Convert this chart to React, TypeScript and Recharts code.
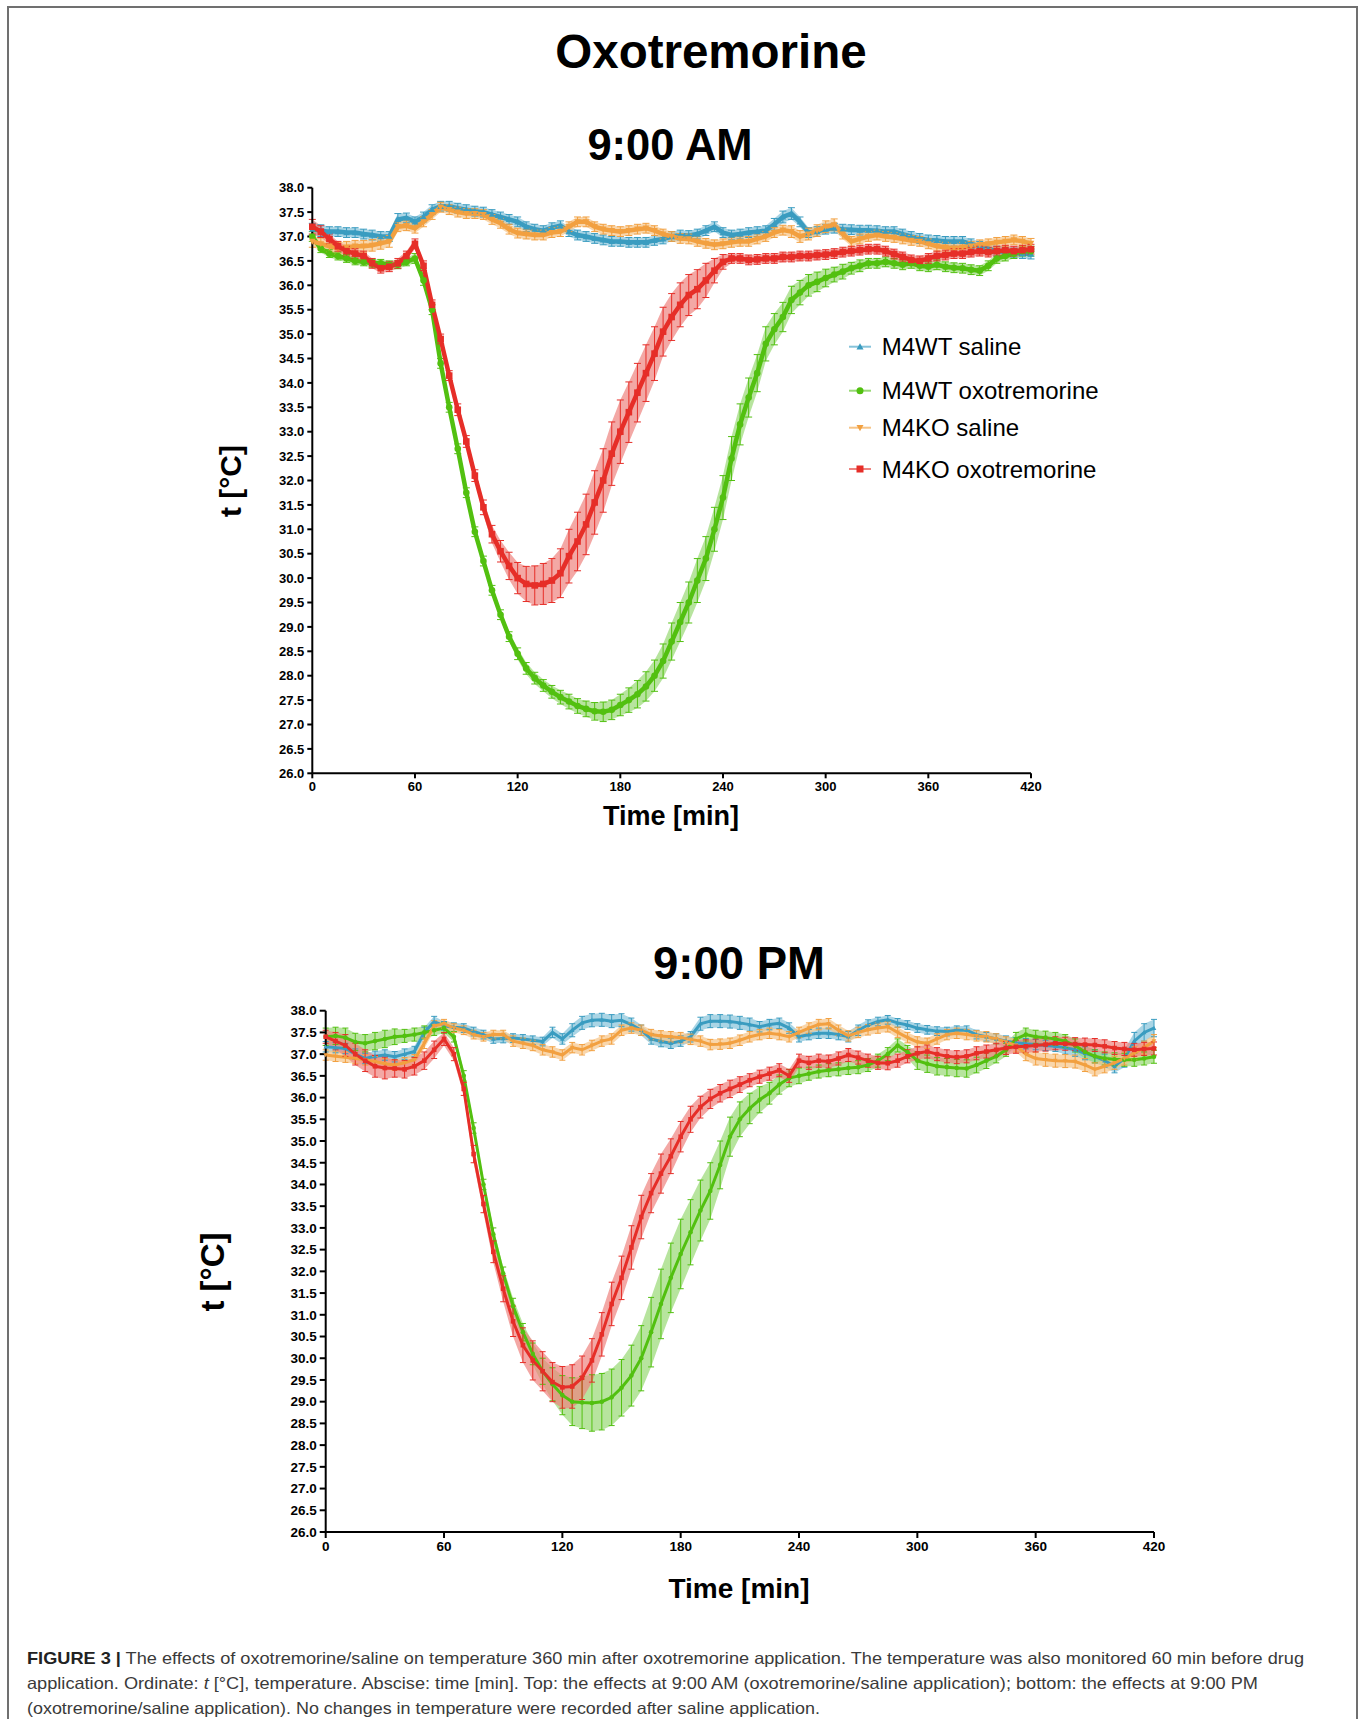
import React from 'react';
import { ComposedChart, Line, Area, XAxis, YAxis, ErrorBar } from 'recharts';

const FONT = '"Liberation Sans", Arial, Helvetica, sans-serif';

// time grid (min)
const TIME = [
  0, 5, 10, 15, 20, 25, 30, 35, 40, 45,
  50, 55, 60, 65, 70, 75, 80, 85, 90, 95,
  100, 105, 110, 115, 120, 125, 130, 135, 140, 145,
  150, 155, 160, 165, 170, 175, 180, 185, 190, 195,
  200, 205, 210, 215, 220, 225, 230, 235, 240, 245,
  250, 255, 260, 265, 270, 275, 280, 285, 290, 295,
  300, 305, 310, 315, 320, 325, 330, 335, 340, 345,
  350, 355, 360, 365, 370, 375, 380, 385, 390, 395,
  400, 405, 410, 415, 420,
];

const X_TICKS = [0, 60, 120, 180, 240, 300, 360, 420];
const Y_TICKS = [26, 26.5, 27, 27.5, 28, 28.5, 29, 29.5, 30, 30.5, 31, 31.5, 32, 32.5, 33, 33.5, 34, 34.5, 35, 35.5, 36, 36.5, 37, 37.5, 38];

// ---------- 9:00 AM ----------
const AM_WT_SALINE = [
  37.15, 37.12, 37.1, 37.1, 37.08, 37.08, 37.05, 37.03, 37.0, 37.0,
  37.35, 37.38, 37.3, 37.4, 37.55, 37.62, 37.62, 37.58, 37.55, 37.52,
  37.5, 37.45, 37.4, 37.35, 37.3, 37.2, 37.15, 37.12, 37.18, 37.22,
  37.1, 37.03, 37.0, 36.96, 36.93, 36.9, 36.9, 36.88, 36.88, 36.88,
  36.92, 36.95, 37.0, 37.03, 37.02, 37.05, 37.12, 37.2, 37.08, 37.03,
  37.05, 37.08, 37.1, 37.12, 37.25, 37.4, 37.47, 37.3, 37.08, 37.1,
  37.15, 37.17, 37.15, 37.14, 37.13, 37.13, 37.12, 37.1, 37.1, 37.05,
  37.0, 36.96, 36.93, 36.92, 36.9, 36.9, 36.9, 36.85, 36.8, 36.75,
  36.7, 36.68, 36.66, 36.65, 36.64,
];
const AM_WT_SALINE_SEM = [
  0.12, 0.12, 0.1, 0.1, 0.1, 0.1, 0.1, 0.1, 0.1, 0.1,
  0.12, 0.1, 0.1, 0.1, 0.1, 0.1, 0.1, 0.1, 0.1, 0.1,
  0.1, 0.1, 0.1, 0.1, 0.1, 0.1, 0.1, 0.1, 0.1, 0.1,
  0.1, 0.1, 0.1, 0.1, 0.1, 0.1, 0.1, 0.1, 0.1, 0.1,
  0.1, 0.1, 0.1, 0.1, 0.1, 0.1, 0.1, 0.1, 0.1, 0.1,
  0.1, 0.1, 0.1, 0.1, 0.12, 0.12, 0.12, 0.1, 0.1, 0.1,
  0.1, 0.1, 0.1, 0.1, 0.1, 0.1, 0.1, 0.1, 0.1, 0.1,
  0.1, 0.1, 0.1, 0.1, 0.1, 0.1, 0.1, 0.1, 0.1, 0.1,
  0.1, 0.1, 0.1, 0.1, 0.1,
];
const AM_WT_OXO = [
  37.0, 36.75, 36.65, 36.6, 36.55, 36.5, 36.48, 36.45, 36.45, 36.42,
  36.42, 36.48, 36.55, 36.1, 35.5, 34.4, 33.5, 32.65, 31.75, 30.95,
  30.35, 29.75, 29.25, 28.8, 28.45, 28.15, 27.95, 27.8, 27.67, 27.56,
  27.47, 27.38, 27.32, 27.27, 27.26, 27.3, 27.4, 27.5, 27.62, 27.78,
  28.0, 28.3, 28.7, 29.1, 29.5, 29.95, 30.4, 31.0, 31.65, 32.45,
  33.15, 33.7, 34.2, 34.8, 35.1, 35.35, 35.7, 35.85, 36.0, 36.07,
  36.15, 36.22, 36.28, 36.35, 36.4, 36.45, 36.45, 36.48, 36.45, 36.42,
  36.45, 36.4, 36.38, 36.42, 36.38, 36.36, 36.35, 36.32, 36.3, 36.4,
  36.55, 36.6, 36.65, 36.7, 36.7,
];
const AM_WT_OXO_SEM = [
  0.1, 0.08, 0.08, 0.08, 0.08, 0.08, 0.08, 0.08, 0.08, 0.08,
  0.08, 0.08, 0.1, 0.1, 0.1, 0.1, 0.1, 0.1, 0.1, 0.1,
  0.1, 0.1, 0.1, 0.1, 0.12, 0.12, 0.12, 0.12, 0.13, 0.14,
  0.15, 0.15, 0.16, 0.18, 0.2, 0.2, 0.22, 0.25, 0.28, 0.3,
  0.32, 0.35, 0.38, 0.4, 0.42, 0.45, 0.45, 0.45, 0.45, 0.45,
  0.42, 0.4, 0.38, 0.35, 0.32, 0.3, 0.28, 0.25, 0.22, 0.2,
  0.18, 0.15, 0.15, 0.12, 0.12, 0.1, 0.1, 0.1, 0.1, 0.1,
  0.1, 0.1, 0.1, 0.1, 0.1, 0.1, 0.1, 0.1, 0.1, 0.1,
  0.1, 0.1, 0.1, 0.1, 0.1,
];
const AM_KO_SALINE = [
  36.9, 36.85, 36.8, 36.76, 36.78, 36.8, 36.8, 36.82, 36.86, 36.9,
  37.2, 37.22, 37.17, 37.3, 37.45, 37.6, 37.55, 37.5, 37.47, 37.47,
  37.45, 37.35, 37.27, 37.15, 37.07, 37.05, 37.03, 37.03, 37.08, 37.1,
  37.2, 37.3, 37.3, 37.2, 37.15, 37.12, 37.1, 37.12, 37.15, 37.17,
  37.12, 37.05, 37.0, 36.96, 36.95, 36.9, 36.86, 36.83, 36.85, 36.88,
  36.9, 36.9, 36.95, 37.0, 37.08, 37.13, 37.1, 37.0, 37.05, 37.12,
  37.2, 37.24, 37.05, 36.9, 36.95, 37.0, 37.03, 37.0, 36.98, 36.95,
  36.92, 36.9, 36.85, 36.8, 36.78, 36.76, 36.78, 36.8, 36.83, 36.85,
  36.88, 36.9, 36.93, 36.9, 36.86,
];
const AM_KO_SALINE_SEM = [
  0.12, 0.12, 0.12, 0.12, 0.12, 0.12, 0.12, 0.12, 0.12, 0.12,
  0.1, 0.1, 0.1, 0.1, 0.1, 0.1, 0.1, 0.1, 0.1, 0.1,
  0.1, 0.1, 0.1, 0.1, 0.1, 0.1, 0.1, 0.1, 0.1, 0.1,
  0.1, 0.1, 0.1, 0.1, 0.1, 0.1, 0.1, 0.1, 0.1, 0.1,
  0.1, 0.1, 0.1, 0.1, 0.1, 0.1, 0.1, 0.1, 0.1, 0.1,
  0.1, 0.1, 0.1, 0.1, 0.1, 0.1, 0.12, 0.12, 0.12, 0.12,
  0.12, 0.12, 0.1, 0.1, 0.1, 0.1, 0.1, 0.1, 0.1, 0.1,
  0.1, 0.1, 0.1, 0.1, 0.1, 0.1, 0.1, 0.1, 0.1, 0.1,
  0.1, 0.1, 0.1, 0.1, 0.1,
];
const AM_KO_OXO = [
  37.2, 37.1, 36.95, 36.8, 36.7, 36.65, 36.6, 36.45, 36.35, 36.38,
  36.45, 36.6, 36.85, 36.4, 35.6, 34.9, 34.15, 33.45, 32.8, 32.1,
  31.45, 30.9, 30.55, 30.25, 30.0, 29.88, 29.85, 29.88, 29.95, 30.1,
  30.45, 30.75, 31.1, 31.55, 32.0, 32.55, 33.0, 33.4, 33.8, 34.2,
  34.6, 35.05, 35.35, 35.6, 35.8, 35.92, 36.1, 36.3, 36.48, 36.55,
  36.55, 36.52, 36.53, 36.55, 36.55, 36.58, 36.58, 36.6, 36.6, 36.62,
  36.63, 36.65, 36.68, 36.7, 36.72, 36.74, 36.74, 36.7, 36.64, 36.58,
  36.52, 36.5, 36.55, 36.6, 36.62, 36.65, 36.65, 36.68, 36.7, 36.68,
  36.7, 36.72, 36.7, 36.72, 36.74,
];
const AM_KO_OXO_SEM = [
  0.15, 0.12, 0.1, 0.1, 0.1, 0.1, 0.1, 0.1, 0.1, 0.1,
  0.1, 0.1, 0.1, 0.1, 0.1, 0.1, 0.1, 0.12, 0.12, 0.12,
  0.15, 0.18, 0.22, 0.28, 0.32, 0.36, 0.4, 0.42, 0.45, 0.5,
  0.55, 0.6, 0.62, 0.65, 0.65, 0.65, 0.65, 0.62, 0.6, 0.58,
  0.55, 0.5, 0.48, 0.45, 0.42, 0.4, 0.35, 0.25, 0.15, 0.1,
  0.1, 0.1, 0.1, 0.1, 0.1, 0.1, 0.1, 0.1, 0.1, 0.1,
  0.1, 0.1, 0.1, 0.1, 0.1, 0.1, 0.1, 0.1, 0.1, 0.1,
  0.1, 0.1, 0.1, 0.1, 0.1, 0.1, 0.1, 0.1, 0.1, 0.1,
  0.1, 0.1, 0.1, 0.1, 0.1,
];

// ---------- 9:00 PM ----------
const PM_WT_SALINE = [
  37.17, 37.15, 37.13, 37.0, 36.9, 36.95, 36.98, 36.94, 37.0, 37.06,
  37.5, 37.75, 37.65, 37.62, 37.6, 37.52, 37.45, 37.35, 37.36, 37.37,
  37.35, 37.32, 37.29, 37.5, 37.35, 37.55, 37.72, 37.78, 37.79, 37.76,
  37.78, 37.68, 37.55, 37.35, 37.29, 37.25, 37.3, 37.4, 37.7, 37.76,
  37.76, 37.75, 37.72, 37.68, 37.63, 37.68, 37.71, 37.6, 37.4, 37.45,
  37.48, 37.48, 37.45, 37.4, 37.55, 37.67, 37.75, 37.79, 37.72, 37.67,
  37.6, 37.56, 37.53, 37.52, 37.55, 37.55, 37.45, 37.4, 37.35, 37.3,
  37.26, 37.24, 37.22, 37.2, 37.18, 37.15, 37.1, 37.02, 36.95, 36.85,
  36.72, 36.9, 37.3, 37.5, 37.6,
];
const PM_WT_SALINE_SEM = [
  0.12, 0.12, 0.12, 0.12, 0.12, 0.12, 0.12, 0.12, 0.12, 0.12,
  0.12, 0.12, 0.1, 0.1, 0.1, 0.1, 0.1, 0.1, 0.1, 0.1,
  0.1, 0.1, 0.1, 0.12, 0.12, 0.15, 0.15, 0.15, 0.15, 0.15,
  0.15, 0.15, 0.12, 0.12, 0.12, 0.12, 0.12, 0.12, 0.15, 0.15,
  0.15, 0.15, 0.15, 0.15, 0.12, 0.12, 0.12, 0.12, 0.12, 0.12,
  0.12, 0.12, 0.12, 0.12, 0.12, 0.12, 0.1, 0.1, 0.1, 0.1,
  0.1, 0.1, 0.1, 0.1, 0.1, 0.1, 0.1, 0.1, 0.12, 0.12,
  0.12, 0.12, 0.12, 0.12, 0.12, 0.15, 0.15, 0.15, 0.15, 0.15,
  0.15, 0.2, 0.2, 0.2, 0.2,
];
const PM_WT_OXO = [
  37.4, 37.42, 37.38, 37.28, 37.25, 37.3, 37.35, 37.4, 37.42, 37.45,
  37.5, 37.55, 37.6, 37.4, 36.5, 35.3, 34.0, 32.85, 31.95, 31.2,
  30.6, 30.1, 29.7, 29.4, 29.15, 29.0, 28.98, 28.97, 29.0, 29.1,
  29.32, 29.6, 30.0, 30.6, 31.25, 31.85, 32.4, 32.9, 33.4, 33.85,
  34.45, 35.1, 35.5, 35.75, 35.95, 36.1, 36.3, 36.45, 36.5, 36.55,
  36.6, 36.63, 36.65, 36.68, 36.7, 36.75, 36.85, 37.0, 37.2, 37.05,
  36.85, 36.78, 36.72, 36.7, 36.68, 36.67, 36.75, 36.85, 36.95, 37.1,
  37.35, 37.45, 37.4, 37.38, 37.35, 37.3, 37.2, 37.05, 36.95, 36.9,
  36.88, 36.87, 36.87, 36.9, 36.94,
];
const PM_WT_OXO_SEM = [
  0.2, 0.2, 0.22, 0.2, 0.2, 0.2, 0.2, 0.18, 0.15, 0.15,
  0.15, 0.12, 0.12, 0.12, 0.12, 0.12, 0.12, 0.15, 0.15, 0.18,
  0.2, 0.25, 0.3, 0.38, 0.45, 0.55, 0.6, 0.65, 0.65, 0.65,
  0.65, 0.7, 0.75, 0.8, 0.8, 0.8, 0.8, 0.75, 0.7, 0.65,
  0.55, 0.45, 0.4, 0.35, 0.3, 0.25, 0.22, 0.2, 0.18, 0.15,
  0.15, 0.15, 0.15, 0.15, 0.15, 0.15, 0.15, 0.15, 0.15, 0.15,
  0.2, 0.2, 0.2, 0.2, 0.2, 0.2, 0.18, 0.18, 0.15, 0.15,
  0.15, 0.15, 0.15, 0.15, 0.15, 0.15, 0.15, 0.15, 0.15, 0.15,
  0.15, 0.15, 0.15, 0.15, 0.15,
];
const PM_KO_SALINE = [
  36.98, 36.95, 36.93, 36.9, 36.87, 36.83, 36.78, 36.75, 36.8, 36.87,
  37.25, 37.65, 37.7, 37.6, 37.55, 37.45, 37.4, 37.45, 37.45, 37.3,
  37.25, 37.2, 37.1, 37.05, 36.98, 37.15, 37.1, 37.2, 37.3, 37.35,
  37.55, 37.6, 37.55, 37.45, 37.42, 37.4, 37.38, 37.34, 37.3, 37.22,
  37.23, 37.25, 37.32, 37.4, 37.45, 37.48, 37.45, 37.4, 37.5, 37.6,
  37.68, 37.7, 37.55, 37.42, 37.5, 37.56, 37.6, 37.63, 37.5, 37.38,
  37.28, 37.25, 37.35, 37.45, 37.48, 37.45, 37.42, 37.4, 37.35, 37.28,
  37.2, 37.0, 36.9, 36.87, 36.85, 36.84, 36.83, 36.75, 36.65, 36.72,
  36.8, 36.9, 37.02, 37.15, 37.3,
];
const PM_KO_SALINE_SEM = [
  0.12, 0.12, 0.12, 0.12, 0.12, 0.12, 0.12, 0.12, 0.12, 0.12,
  0.12, 0.12, 0.1, 0.1, 0.1, 0.1, 0.1, 0.1, 0.1, 0.12,
  0.12, 0.12, 0.12, 0.12, 0.12, 0.12, 0.12, 0.12, 0.12, 0.12,
  0.12, 0.12, 0.12, 0.12, 0.12, 0.12, 0.12, 0.12, 0.12, 0.12,
  0.12, 0.12, 0.12, 0.12, 0.12, 0.12, 0.12, 0.12, 0.12, 0.12,
  0.12, 0.12, 0.12, 0.12, 0.12, 0.12, 0.12, 0.12, 0.12, 0.12,
  0.12, 0.12, 0.12, 0.12, 0.12, 0.12, 0.12, 0.12, 0.12, 0.12,
  0.15, 0.15, 0.15, 0.15, 0.15, 0.15, 0.15, 0.15, 0.15, 0.15,
  0.15, 0.15, 0.15, 0.15, 0.15,
];
const PM_KO_OXO = [
  37.4, 37.3, 37.2, 37.0, 36.85, 36.72, 36.68, 36.67, 36.65, 36.72,
  36.85, 37.1, 37.35, 37.0, 36.2, 34.7, 33.55, 32.45, 31.6, 30.85,
  30.3, 29.95, 29.7, 29.45, 29.33, 29.35, 29.55, 29.95, 30.55, 31.25,
  31.85, 32.55, 33.25, 33.8, 34.25, 34.65, 35.1, 35.5, 35.78, 35.97,
  36.1, 36.2, 36.3, 36.4, 36.48, 36.55, 36.63, 36.5, 36.85, 36.8,
  36.85, 36.83, 36.9, 36.98, 36.92, 36.85, 36.8, 36.79, 36.85, 36.95,
  37.02, 37.06, 37.0, 36.95, 36.93, 36.95, 37.02, 37.06, 37.1, 37.14,
  37.17, 37.18, 37.2, 37.22, 37.25, 37.24, 37.23, 37.22, 37.21, 37.18,
  37.14, 37.12, 37.1, 37.12, 37.13,
];
const PM_KO_OXO_SEM = [
  0.15, 0.2, 0.25, 0.25, 0.25, 0.25, 0.25, 0.2, 0.2, 0.2,
  0.2, 0.2, 0.15, 0.15, 0.15, 0.2, 0.2, 0.25, 0.3, 0.35,
  0.4, 0.45, 0.45, 0.45, 0.48, 0.5, 0.5, 0.5, 0.5, 0.5,
  0.5, 0.5, 0.5, 0.45, 0.45, 0.4, 0.35, 0.3, 0.25, 0.22,
  0.2, 0.2, 0.18, 0.15, 0.15, 0.15, 0.15, 0.15, 0.15, 0.15,
  0.15, 0.15, 0.15, 0.15, 0.15, 0.15, 0.15, 0.15, 0.15, 0.15,
  0.15, 0.15, 0.15, 0.15, 0.15, 0.15, 0.15, 0.15, 0.15, 0.15,
  0.15, 0.15, 0.15, 0.15, 0.15, 0.15, 0.15, 0.15, 0.15, 0.15,
  0.15, 0.15, 0.15, 0.15, 0.15,
];

type Shape = 'up' | 'circle' | 'down' | 'square';
const SERIES: { key: string; name: string; color: string; light: string; shape: Shape }[] = [
  { key: 'wtSal', name: 'M4WT saline', color: '#3a9cc0', light: '#86c3da', shape: 'up' },
  { key: 'wtOxo', name: 'M4WT oxotremorine', color: '#52c010', light: '#98d975', shape: 'circle' },
  { key: 'koSal', name: 'M4KO saline', color: '#f2a040', light: '#f6c487', shape: 'down' },
  { key: 'koOxo', name: 'M4KO oxotremorine', color: '#e62e28', light: '#ee837f', shape: 'square' },
];

function buildRows(means: number[][], sems: number[][]) {
  return TIME.map((t, i) => {
    const row: Record<string, any> = { t };
    SERIES.forEach((s, j) => {
      const m = means[j][i];
      const e = sems[j][i];
      row[s.key] = m;
      row[s.key + 'E'] = e;
      row[s.key + 'R'] = [m - e, m + e];
    });
    return row;
  });
}

const AM_ROWS = buildRows(
  [AM_WT_SALINE, AM_WT_OXO, AM_KO_SALINE, AM_KO_OXO],
  [AM_WT_SALINE_SEM, AM_WT_OXO_SEM, AM_KO_SALINE_SEM, AM_KO_OXO_SEM]
);
const PM_ROWS = buildRows(
  [PM_WT_SALINE, PM_WT_OXO, PM_KO_SALINE, PM_KO_OXO],
  [PM_WT_SALINE_SEM, PM_WT_OXO_SEM, PM_KO_SALINE_SEM, PM_KO_OXO_SEM]
);

function markerEl(shape: Shape, cx: number, cy: number, s: number, color: string, key?: string) {
  if (shape === 'up')
    return <path key={key} d={`M${cx},${cy - s} L${cx + s},${cy + s * 0.8} L${cx - s},${cy + s * 0.8} Z`} fill={color} />;
  if (shape === 'down')
    return <path key={key} d={`M${cx},${cy + s} L${cx + s},${cy - s * 0.8} L${cx - s},${cy - s * 0.8} Z`} fill={color} />;
  if (shape === 'circle') return <circle key={key} cx={cx} cy={cy} r={s} fill={color} />;
  return <rect key={key} x={cx - s} y={cy - s} width={2 * s} height={2 * s} fill={color} />;
}

type PanelProps = {
  rows: Record<string, any>[];
  left: number;
  top: number;
  width: number;
  height: number;
  margin: { top: number; right: number; bottom: number; left: number };
  yAxisWidth: number;
  tickFont: number;
  tickSize: number;
  tickMargin: number;
  lineW: number;
  dotR: number;
  capW: number;
};

function Panel(p: PanelProps) {
  const axisStyle = { stroke: '#000', strokeWidth: 2 };
  const tickStyle = { fill: '#000', fontSize: p.tickFont, fontWeight: 700, fontFamily: FONT };
  const items: React.ReactNode[] = [];
  SERIES.forEach((s) => {
    items.push(
      <Area
        key={s.key + 'band'}
        dataKey={s.key + 'R'}
        type="linear"
        stroke="none"
        fill={s.light}
        fillOpacity={0.7}
        isAnimationActive={false}
        activeDot={false}
      />
    );
    items.push(
      <Line
        key={s.key + 'line'}
        dataKey={s.key}
        type="linear"
        stroke={s.color}
        strokeWidth={p.lineW}
        isAnimationActive={false}
        activeDot={false}
        dot={(d: any) => markerEl(s.shape, d.cx, d.cy, p.dotR, s.color, `${s.key}-d-${d.index}`)}
      >
        <ErrorBar dataKey={s.key + 'E'} width={p.capW} stroke={s.color} strokeWidth={1} direction="y" isAnimationActive={false} />
      </Line>
    );
  });
  return (
    <div style={{ position: 'absolute', left: p.left, top: p.top }}>
      <ComposedChart width={p.width} height={p.height} data={p.rows} margin={p.margin}>
        <XAxis
          type="number"
          dataKey="t"
          domain={[0, 420]}
          ticks={X_TICKS}
          interval={0}
          height={30}
          tickSize={p.tickSize}
          tickMargin={p.tickMargin}
          axisLine={axisStyle}
          tickLine={axisStyle}
          tick={tickStyle}
        />
        <YAxis
          type="number"
          domain={[26, 38]}
          ticks={Y_TICKS}
          interval={0}
          width={p.yAxisWidth}
          tickSize={p.tickSize}
          tickMargin={p.tickMargin}
          axisLine={axisStyle}
          tickLine={axisStyle}
          tick={tickStyle}
          tickFormatter={(v: number) => v.toFixed(1)}
        />
        {items}
      </ComposedChart>
    </div>
  );
}

function Text(props: { x: number; y: number; size: number; bold?: boolean; rotate?: number; children: React.ReactNode }) {
  return (
    <div
      style={{
        position: 'absolute',
        left: props.x,
        top: props.y,
        transform: `translate(-50%, -50%) rotate(${props.rotate || 0}deg)`,
        fontFamily: FONT,
        fontSize: props.size,
        fontWeight: props.bold ? 700 : 400,
        lineHeight: 1,
        whiteSpace: 'nowrap',
        color: '#000',
      }}
    >
      {props.children}
    </div>
  );
}

function LegendBox() {
  const rows = [21.7, 65.7, 102.7, 144];
  return (
    <svg style={{ position: 'absolute', left: 840, top: 325 }} width={320} height={170}>
      {SERIES.map((s, i) => (
        <g key={s.key}>
          <line x1={9} x2={31} y1={rows[i]} y2={rows[i]} stroke={s.light} strokeWidth={2} />
          {markerEl(s.shape, 20, rows[i], 3.5, s.color)}
          <text x={41.7} y={rows[i]} dominantBaseline="central" fontFamily={FONT} fontSize={24} fill="#000">
            {s.name}
          </text>
        </g>
      ))}
    </svg>
  );
}

function Caption() {
  return (
    <svg style={{ position: 'absolute', left: 0, top: 1630 }} width={1358} height={89}>
      <text x={27} y={34} fontFamily={FONT} fontSize={16.5} fill="#3a3a3a" textLength={1277} lengthAdjust="spacingAndGlyphs">
        <tspan fontWeight={700} fill="#222">FIGURE 3 |</tspan>
        <tspan> The effects of oxotremorine/saline on temperature 360 min after oxotremorine application. The temperature was also monitored 60 min before drug</tspan>
      </text>
      <text x={27} y={59} fontFamily={FONT} fontSize={16.5} fill="#3a3a3a" textLength={1231} lengthAdjust="spacingAndGlyphs">
        <tspan>application. Ordinate: </tspan>
        <tspan fontStyle="italic">t</tspan>
        <tspan> [°C], temperature. Abscise: time [min]. Top: the effects at 9:00 AM (oxotremorine/saline application); bottom: the effects at 9:00 PM</tspan>
      </text>
      <text x={27} y={84} fontFamily={FONT} fontSize={16.5} fill="#3a3a3a" textLength={793} lengthAdjust="spacingAndGlyphs">
        (oxotremorine/saline application). No changes in temperature were recorded after saline application.
      </text>
    </svg>
  );
}

export default function App() {
  return (
    <div style={{ position: 'absolute', left: 0, top: 0, width: 1358, height: 1719, background: '#fff', overflow: 'hidden', fontFamily: FONT }}>
      <div style={{ position: 'absolute', left: 7, top: 6, width: 1347, height: 1740, borderTop: '2px solid #707070', borderLeft: '2px solid #707070', borderRight: '2px solid #707070' }} />
      <Text x={711} y={52} size={47.5} bold>Oxotremorine</Text>
      <Text x={670} y={146} size={43.5} bold>9:00 AM</Text>
      <Text x={739} y={964} size={45.5} bold>9:00 PM</Text>

      <Text x={231} y={481} size={30} bold rotate={-90}>t [°C]</Text>
      <Text x={671} y={816} size={27} bold>Time [min]</Text>
      <Text x={212} y={1272} size={33} bold rotate={-90}>t [°C]</Text>
      <Text x={739} y={1589} size={28} bold>Time [min]</Text>

      <Panel
        rows={AM_ROWS}
        left={200}
        top={150}
        width={900}
        height={700}
        margin={{ top: 37.7, right: 69, bottom: 46.7, left: 0 }}
        yAxisWidth={112.3}
        tickFont={13}
        tickSize={5}
        tickMargin={3}
        lineW={4.5}
        dotR={3.3}
        capW={3.5}
      />
      <Panel
        rows={PM_ROWS}
        left={200}
        top={980}
        width={1000}
        height={620}
        margin={{ top: 30.7, right: 46, bottom: 38, left: 0 }}
        yAxisWidth={125.7}
        tickFont={13.5}
        tickSize={6}
        tickMargin={3}
        lineW={3}
        dotR={2.3}
        capW={3}
      />
      <LegendBox />
      <Caption />
    </div>
  );
}
